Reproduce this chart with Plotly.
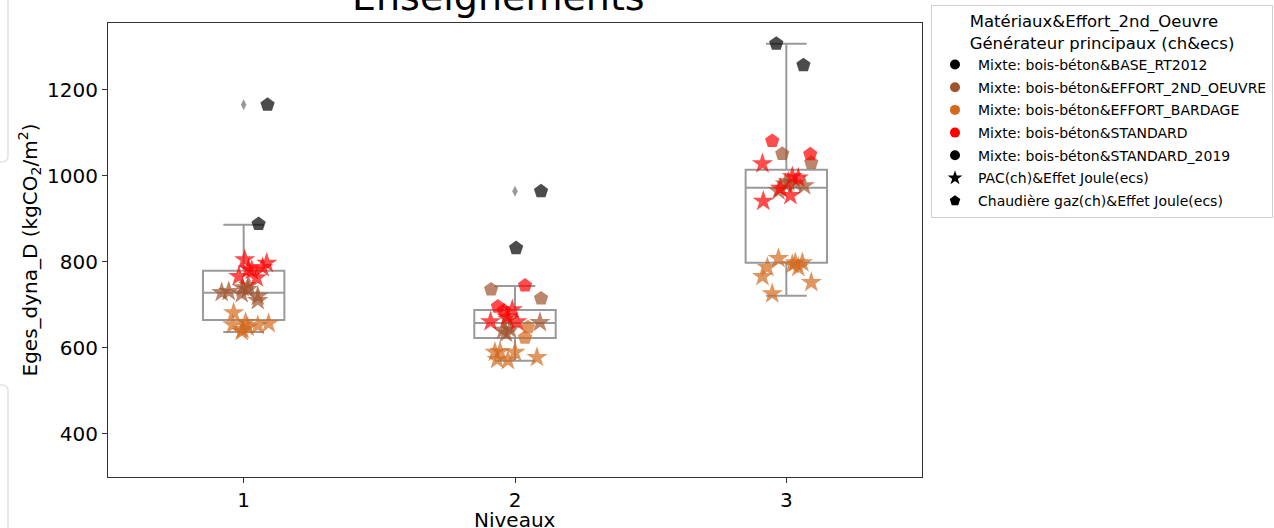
import plotly.graph_objects as go

# ---- data -------------------------------------------------------------
levels = [1, 2, 3]
level_labels = ["1", "2", "3"]
y_ticks = [400, 600, 800, 1000, 1200]

# box statistics per level
box_q1 = [665, 623, 798]
box_median = [728, 658, 972]
box_q3 = [779, 688, 1014]
box_low = [637, 570, 721]
box_high = [886, 744, 1307]

# outliers of the boxes
outlier_x = [1, 2]
outlier_y = [1165, 964]

# points: level + jitter position, value
base_pent_x = [1.088, 2.096, 2.963]
base_pent_y = [1165, 964, 1307]

std2019_pent_x = [1.055, 2.004, 3.063]
std2019_pent_y = [888, 832, 1257]

std_star_x = [1.004, 1.085, 1.070, 1.018, 1.030, 0.982, 1.048,
              1.990, 1.910, 2.007, 1.970,
              2.912, 2.915, 3.022, 3.044, 2.978, 3.015]
std_star_y = [805, 797, 787, 784, 780, 766, 763,
              689, 661, 661, 672,
              1028, 941, 998, 995, 971, 954]
std_pent_x = [2.037, 1.937, 1.959, 2.948, 3.088]
std_pent_y = [745, 696, 687, 1081, 1050]

e2o_star_x = [0.919, 0.945, 0.993, 0.996, 1.018, 1.052, 1.052, 1.015,
              1.956, 1.982, 2.092, 1.974, 1.967,
              3.007, 3.033, 3.066, 2.971, 2.996]
e2o_star_y = [729, 731, 726, 740, 745, 720, 710, 736,
              641, 643, 659, 666, 634,
              986, 983, 977, 965, 981]
e2o_pent_x = [1.912, 2.096, 2.985, 3.092]
e2o_pent_y = [736, 715, 1051, 1030]

bard_star_x = [0.963, 0.960, 0.996, 1.007, 1.052, 1.092, 0.993, 1.015,
               1.926, 1.945, 1.934, 2.000, 1.974, 2.081,
               2.971, 2.930, 2.912, 3.022, 3.044, 3.033, 3.059, 3.092, 2.948]
bard_star_y = [682, 654, 643, 659, 652, 657, 638, 648,
               590, 592, 573, 590, 571, 578,
               808, 787, 766, 794, 787, 798, 798, 752, 726]
bard_pent_x = [2.048, 2.037]
bard_pent_y = [648, 624]

legend_names = [
    "Mixte: bois-béton&BASE_RT2012",
    "Mixte: bois-béton&EFFORT_2ND_OEUVRE",
    "Mixte: bois-béton&EFFORT_BARDAGE",
    "Mixte: bois-béton&STANDARD",
    "Mixte: bois-béton&STANDARD_2019",
]
legend_colors = ["#000000", "#a0522d", "#d2691e", "#ff0000", "#000000"]
shape_names = ["PAC(ch)&Effet Joule(ecs)", "Chaudière gaz(ch)&Effet Joule(ecs)"]

# ---- figure -----------------------------------------------------------
FONT = "DejaVu Sans"
fig = go.Figure()

fig.add_trace(go.Box(
    x=levels, q1=box_q1, median=box_median, q3=box_q3,
    lowerfence=box_low, upperfence=box_high,
    width=0.3, whiskerwidth=0.5, boxpoints=False,
    fillcolor="rgba(255,255,255,0)",
    line=dict(color="#9a9a9a", width=2),
    showlegend=False, hoverinfo="skip",
))

fig.add_trace(go.Scatter(
    x=outlier_x, y=outlier_y, mode="markers", showlegend=False,
    marker=dict(symbol="diamond-tall", size=8, color="#9a9a9a"),
))

groups = [
    (base_pent_x, base_pent_y, "#000000", "pentagon"),
    (std2019_pent_x, std2019_pent_y, "#000000", "pentagon"),
    (e2o_star_x, e2o_star_y, "#a0522d", "star"),
    (e2o_pent_x, e2o_pent_y, "#a0522d", "pentagon"),
    (bard_star_x, bard_star_y, "#d2691e", "star"),
    (bard_pent_x, bard_pent_y, "#d2691e", "pentagon"),
    (std_star_x, std_star_y, "#ff0000", "star"),
    (std_pent_x, std_pent_y, "#ff0000", "pentagon"),
]
for gx, gy, col, sym in groups:
    fig.add_trace(go.Scatter(
        x=gx, y=gy, mode="markers", showlegend=False,
        marker=dict(symbol=sym, size=16 if sym == "star" else 15,
                    color=col, opacity=0.7, line=dict(width=0)),
    ))

# legend entries, one group each so that tracegroupgap spaces them
for i, (name, col) in enumerate(zip(legend_names, legend_colors)):
    fig.add_trace(go.Scatter(
        x=[None], y=[None], mode="markers", name=name, legendgroup=f"g{i}",
        marker=dict(symbol="circle", size=10, color=col),
    ))
for j, (name, sym) in enumerate(zip(shape_names, ["star", "pentagon"])):
    fig.add_trace(go.Scatter(
        x=[None], y=[None], mode="markers", name=name, legendgroup=f"s{j}",
        marker=dict(symbol=sym, size=11, color="#000000"),
    ))

# plot area in pixels
L, R, T, B = 108, 922, 23, 477
W, H = 1274, 528


def px(xp):
    return (xp - L) / (R - L)


def py(yp):
    return (B - yp) / (B - T)


fig.add_annotation(
    text="Enseignements", x=px(498), y=py(-3), xref="paper", yref="paper",
    xanchor="center", yanchor="middle", showarrow=False,
    font=dict(family=FONT, size=38, color="#000000"),
)

# x axis title
fig.add_annotation(
    text="Niveaux", x=0.5, y=py(520), xref="paper", yref="paper",
    xanchor="center", yanchor="middle", showarrow=False,
    font=dict(family=FONT, size=20, color="#000000"),
)

# faint panel edges on the left side of the page
for path in [
    f"M {px(-10)},{py(-5)} L {px(8)},{py(-5)} L {px(8)},{py(156)} Q {px(8)},{py(162)} {px(2)},{py(162)} L {px(-10)},{py(162)}",
    f"M {px(-10)},{py(385)} L {px(2)},{py(385)} Q {px(8)},{py(385)} {px(8)},{py(391)} L {px(8)},{py(540)}",
]:
    fig.add_shape(type="path", path=path, xref="paper", yref="paper",
                  line=dict(color="#e2e2e2", width=1.5), layer="below")

fig.update_layout(
    width=W, height=H,
    margin=dict(l=L, r=W - R, t=T, b=H - B, pad=0, autoexpand=False),
    paper_bgcolor="white", plot_bgcolor="white",
    font=dict(family=FONT, size=20, color="#000000"),
    xaxis=dict(
        range=[0.5, 3.5], tickvals=levels, ticktext=level_labels,
        automargin=False,
        showgrid=False, zeroline=False, showline=True, mirror=True,
        linecolor="#333333", linewidth=1,
        ticks="outside", ticklen=5, tickcolor="#333333",
        tickfont=dict(size=20),
    ),
    yaxis=dict(
        range=[300, 1355], tickvals=y_ticks,
        automargin=False,
        showgrid=False, zeroline=False, showline=True, mirror=True,
        linecolor="#333333", linewidth=1,
        ticks="outside", ticklen=5, tickcolor="#333333",
        tickfont=dict(size=20),
        title=dict(text="Eges_dyna_D (kgCO<sub>2</sub>/m<sup>2</sup>)",
                   font=dict(size=20), standoff=4),
    ),
    legend=dict(
        x=px(931), y=py(5), xanchor="left", yanchor="top",
        bgcolor="white", bordercolor="#d0d0d0", borderwidth=1,
        itemwidth=36, tracegroupgap=1.5,
        font=dict(family=FONT, size=14, color="#000000"),
        title=dict(text="Matériaux&Effort_2nd_Oeuvre<br>Générateur principaux (ch&ecs)",
                   side="top center", font=dict(family=FONT, size=16.5)),
    ),
)

fig.write_html("out.html")
